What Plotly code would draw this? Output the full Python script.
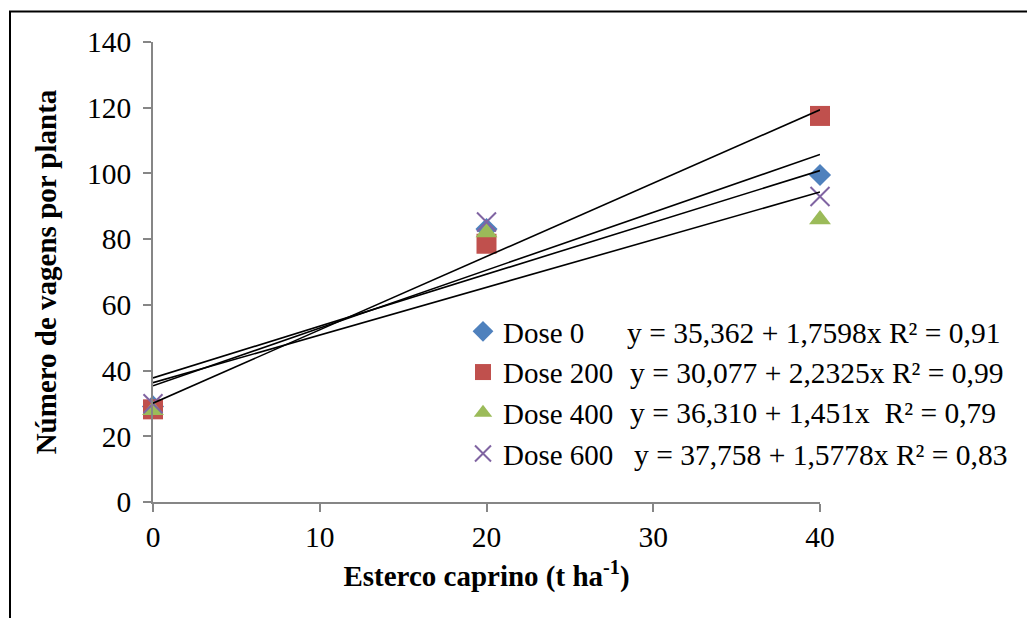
import plotly.graph_objects as go

esterco = [0, 20, 40]
dose_names = ["Dose 0", "Dose 200", "Dose 400", "Dose 600"]
dose0 = [29.1, 83.1, 99.5]
dose200 = [28.2, 78.6, 117.5]
dose400 = [27.9, 82.0, 86.0]
dose600 = [29.9, 85.2, 93.0]
intercepts = [35.362, 30.077, 36.310, 37.758]
slopes = [1.7598, 2.2325, 1.451, 1.5778]
equations = [
    "y = 35,362 + 1,7598x R² = 0,91",
    "y = 30,077 + 2,2325x R² = 0,99",
    "y = 36,310 + 1,451x  R² = 0,79",
    "y = 37,758 + 1,5778x R² = 0,83",
]
y_ticks = [0, 20, 40, 60, 80, 100, 120, 140]
x_ticks = [0, 10, 20, 30, 40]

series = [dose0, dose200, dose400, dose600]
colors = ["#4F81BD", "#C0504D", "#9BBB59", "#8064A2"]
symbols = ["diamond", "square", "triangle-up", "x-thin"]
sizes = [17, 20, 19, 19]

FONT = "Liberation Serif, Times New Roman, serif"
FS = 29.5

fig = go.Figure()
for i, (name, ys) in enumerate(zip(dose_names, series)):
    marker = dict(color=colors[i], symbol=symbols[i], size=sizes[i])
    if symbols[i] == "x-thin":
        marker["line"] = dict(color=colors[i], width=2)
    else:
        marker["line"] = dict(width=0)
    fig.add_trace(go.Scatter(
        x=esterco, y=ys, mode="markers", name=name, marker=marker,
        legendgroup=name, showlegend=True, cliponaxis=False,
    ))

for i in range(4):
    xs = [esterco[0], esterco[-1]]
    ys = [intercepts[i] + slopes[i] * x for x in xs]
    fig.add_trace(go.Scatter(
        x=xs, y=ys, mode="lines", line=dict(color="black", width=1.6),
        showlegend=False, hoverinfo="skip", cliponaxis=False,
    ))

L, R, T, B = 153, 1027 - 820, 42, 618 - 502
W, H = 1027, 618
pw, ph = W - L - R, H - T - B

def px(x):
    return (x - L) / pw

def py(y):
    return (H - B - y) / ph

eq_x = [625, 628, 628, 632]
eq_y = [333, 373, 413, 455]
for i, eq in enumerate(equations):
    fig.add_annotation(
        text=eq, xref="paper", yref="paper", x=px(eq_x[i]), y=py(eq_y[i]),
        xanchor="left", yanchor="middle", showarrow=False,
        font=dict(family=FONT, size=FS, color="black"),
    )

fig.add_shape(
    type="rect", xref="paper", yref="paper",
    x0=px(10), x1=px(1040), y0=py(11.5), y1=py(640),
    line=dict(color="black", width=2), fillcolor="rgba(0,0,0,0)", layer="below",
)

fig.update_layout(
    width=W, height=H,
    margin=dict(l=L, r=R, t=T, b=B, pad=0),
    paper_bgcolor="white", plot_bgcolor="white",
    font=dict(family=FONT, size=FS, color="black"),
    legend=dict(
        x=px(463), y=py(306), xanchor="left", yanchor="top",
        font=dict(family=FONT, size=29, color="black"),
        bgcolor="rgba(0,0,0,0)", tracegroupgap=0, itemwidth=30,
    ),
    xaxis=dict(
        range=[0, 40], tickvals=x_ticks, ticktext=[str(v) for v in x_ticks],
        showgrid=False, zeroline=False, showline=True, linecolor="#868686",
        linewidth=1.5, ticks="outside", ticklen=8, tickcolor="#868686",
        tickwidth=1.5, tickfont=dict(family=FONT, size=FS, color="black"),
        title=dict(text="<b>Esterco caprino (t ha<sup>-1</sup>)</b>",
                   font=dict(family=FONT, size=29, color="black"), standoff=14),
    ),
    yaxis=dict(
        range=[0, 140], tickvals=y_ticks, ticktext=[str(v) for v in y_ticks],
        showgrid=False, zeroline=False, showline=True, linecolor="#868686",
        linewidth=1.5, ticks="outside", ticklen=8, tickcolor="#868686",
        tickwidth=1.5, tickfont=dict(family=FONT, size=FS, color="black"),
        ticklabelstandoff=6,
        title=dict(text="<b>Número de vagens por planta</b>",
                   font=dict(family=FONT, size=29, color="black"), standoff=22),
    ),
)

fig.write_html("out.html")
